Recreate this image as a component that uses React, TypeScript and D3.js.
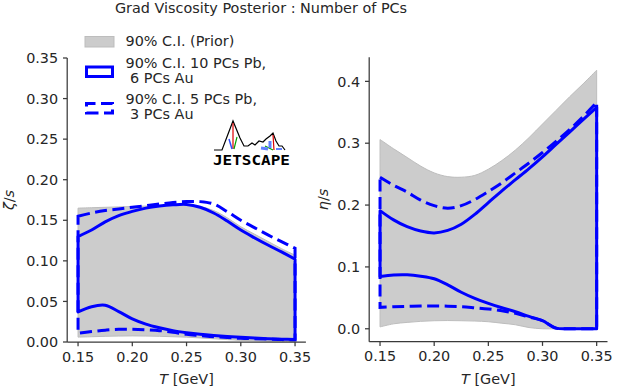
import React from 'react';
import * as d3 from 'd3';

// temperature grid [GeV]
const temps = [0.15, 0.1625, 0.175, 0.1875, 0.2, 0.2125, 0.225, 0.2375, 0.25, 0.2625, 0.275, 0.2875, 0.3, 0.3125, 0.325, 0.3375, 0.35];

// zeta/s : 90% C.I. bands
const zetaPriorLo = [0.006, 0.0065, 0.007, 0.0073, 0.0075, 0.0073, 0.007, 0.0065, 0.006, 0.005, 0.004, 0.003, 0.002, 0.0015, 0.001, 0.0007, 0.0005];
const zetaPriorHi = [0.165, 0.1655, 0.166, 0.1665, 0.167, 0.1675, 0.168, 0.1685, 0.169, 0.167, 0.162, 0.153, 0.142, 0.133, 0.124, 0.115, 0.107];
const zeta10Lo = [0.037, 0.0435, 0.0452, 0.0375, 0.0285, 0.022, 0.0175, 0.014, 0.0115, 0.0095, 0.008, 0.0068, 0.0058, 0.0048, 0.004, 0.0035, 0.003];
const zeta10Hi = [0.13, 0.138, 0.148, 0.1557, 0.161, 0.165, 0.1675, 0.169, 0.1695, 0.166, 0.159, 0.149, 0.138, 0.1285, 0.1195, 0.111, 0.102];
const zeta5Lo = [0.0107, 0.0128, 0.0146, 0.0156, 0.0156, 0.015, 0.014, 0.012, 0.0095, 0.008, 0.0065, 0.0055, 0.0045, 0.004, 0.0035, 0.003, 0.0025];
const zeta5Hi = [0.155, 0.159, 0.162, 0.164, 0.166, 0.168, 0.17, 0.172, 0.173, 0.173, 0.17, 0.1606, 0.15, 0.141, 0.132, 0.1236, 0.1155];

// eta/s : 90% C.I. bands
const etaPriorLo = [0.003, 0.008, 0.0103, 0.012, 0.013, 0.0133, 0.013, 0.0125, 0.0114, 0.009, 0.0065, 0.002, 0, 0, 0, 0, 0];
const etaPriorHi = [0.306, 0.291, 0.277, 0.263, 0.252, 0.246, 0.245, 0.248, 0.258, 0.272, 0.289, 0.309, 0.331, 0.353, 0.375, 0.396, 0.418];
const eta10Lo = [0.0846, 0.087, 0.0873, 0.085, 0.0808, 0.071, 0.059, 0.049, 0.041, 0.034, 0.0276, 0.02, 0.013, 0.001, 0, 0, 0];
const eta10Hi = [0.191, 0.176, 0.165, 0.158, 0.155, 0.159, 0.169, 0.185, 0.204, 0.223, 0.241, 0.259, 0.278, 0.298, 0.318, 0.338, 0.358];
const eta5Lo = [0.0347, 0.0357, 0.0363, 0.0368, 0.0369, 0.0365, 0.0358, 0.034, 0.032, 0.029, 0.025, 0.019, 0.013, 0.001, 0, 0, 0];
const eta5Hi = [0.245, 0.232, 0.221, 0.208, 0.199, 0.195, 0.199, 0.209, 0.222, 0.236, 0.252, 0.268, 0.285, 0.303, 0.322, 0.343, 0.366];

const xTicks = [0.15, 0.2, 0.25, 0.3, 0.35];
const zetaTicks = [0, 0.05, 0.1, 0.15, 0.2, 0.25, 0.3, 0.35];
const etaTicks = [0, 0.1, 0.2, 0.3, 0.4];

const legendLines = [
  ['90% C.I. (Prior)'],
  ['90% C.I. 10 PCs Pb,', ' 6 PCs Au'],
  ['90% C.I. 5 PCs Pb,', ' 3 PCs Au'],
];

const FONT = 'DejaVu Sans, sans-serif';
const TXT = '#262626';
const SPINE = '#3a3a3a';
const GRAY = '#cccccc';
const BLUE = '#0000ff';
const DASH = '12 5.5';
const CURVE = d3.curveCatmullRom.alpha(0.5);

type Sc = d3.ScaleLinear<number, number>;

function outline(lo: number[], hi: number[], x: Sc, y: Sc) {
  const line = d3.line<[number, number]>().curve(CURVE);
  const top = temps.map((t, i) => [x(t), y(hi[i])] as [number, number]);
  const bot = temps.map((t, i) => [x(t), y(lo[i])] as [number, number]).reverse();
  return line(top)! + line(bot)!.replace('M', 'L') + 'Z';
}

function Panel(props: {
  px: [number, number];
  py: [number, number];
  yDomain: [number, number];
  yTicks: number[];
  yFmt: string;
  ySym: string;
  labelX: number;
  prior: [number[], number[]];
  pc10: [number[], number[]];
  pc5: [number[], number[]];
}) {
  const { px, py, yDomain, yTicks, yFmt, ySym, labelX, prior, pc10, pc5 } = props;
  const x = d3.scaleLinear().domain([0.14, 0.36]).range(px);
  const y = d3.scaleLinear().domain(yDomain).range(py);
  const area = d3
    .area<number>()
    .x((_, i) => x(temps[i]))
    .y0((_, i) => y(prior[0][i]))
    .y1(d => y(d))
    .curve(CURVE);
  const fy = d3.format(yFmt);
  const fx = d3.format('.2f');
  return (
    <g>
      <path d={area(prior[1])!} fill={GRAY} stroke="#bdbdbd" strokeWidth={1} />
      <path d={outline(pc10[0], pc10[1], x, y)} fill="none" stroke={BLUE} strokeWidth={3} strokeLinejoin="round" />
      <path d={outline(pc5[0], pc5[1], x, y)} fill="none" stroke={BLUE} strokeWidth={3} strokeDasharray={DASH} />
      {/* spines */}
      <line x1={px[0]} x2={px[0]} y1={py[0]} y2={py[1]} stroke={SPINE} strokeWidth={1.25} />
      <line x1={px[0]} x2={px[1]} y1={py[0]} y2={py[0]} stroke={SPINE} strokeWidth={1.25} />
      {yTicks.map(t => (
        <g key={'y' + t}>
          <line x1={px[0] - 4.2} x2={px[0]} y1={y(t)} y2={y(t)} stroke={SPINE} strokeWidth={1.25} />
          <text x={px[0] - 9} y={y(t)} dy="0.36em" textAnchor="end" fontSize={14.4} fill={TXT}>
            {fy(t)}
          </text>
        </g>
      ))}
      {xTicks.map(t => (
        <g key={'x' + t}>
          <line x1={x(t)} x2={x(t)} y1={py[0]} y2={py[0] + 4.2} stroke={SPINE} strokeWidth={1.25} />
          <text x={x(t)} y={py[0] + 19.5} textAnchor="middle" fontSize={14.4} fill={TXT}>
            {fx(t)}
          </text>
        </g>
      ))}
      <text x={(px[0] + px[1]) / 2} y={384} textAnchor="middle" fontSize={14.4} fill={TXT}>
        <tspan fontStyle="italic">T</tspan> [GeV]
      </text>
      <text
        transform={`translate(${labelX},${(py[0] + py[1]) / 2}) rotate(-90)`}
        textAnchor="middle"
        fontSize={14.4}
        fill={TXT}
      >
        <tspan fontStyle="italic">{ySym}</tspan>/<tspan fontStyle="italic">s</tspan>
      </text>
    </g>
  );
}

function Legend() {
  const rows = [46, 68, 104];
  return (
    <g>
      <rect x={85} y={36.5} width={29} height={10.5} fill={GRAY} stroke="#bdbdbd" strokeWidth={1} />
      <rect x={86.5} y={67} width={26} height={9.5} fill="none" stroke={BLUE} strokeWidth={3} />
      <path d="M86.5,113 L112.5,113 L112.5,103.5 L86.5,103.5 Z" fill="none" stroke={BLUE} strokeWidth={3} strokeDasharray={DASH} />
      {legendLines.map((lines, i) =>
        lines.map((s, j) => (
          <text key={i + '-' + j} x={125.5} y={rows[i] + j * 15} fontSize={14.4} fill={TXT} style={{ whiteSpace: 'pre' }}>
            {s}
          </text>
        ))
      )}
    </g>
  );
}

function Logo() {
  // small JETSCAPE emblem
  return (
    <g>
      <polyline
        points="214,150 222,150 233,121 240,138 244,146 248,146 252,143 255,145 259,141 263,142 266,139 270,136 273,133 276,141 279,146 282,146 285,150"
        fill="none"
        stroke="#000"
        strokeWidth={1.2}
      />
      <line x1={233} y1={123} x2={233} y2={149} stroke="#e00000" strokeWidth={1.2} />
      <line x1={229} y1={139} x2={232} y2={149} stroke="#3050ff" strokeWidth={1.5} />
      <line x1={237} y1={137} x2={234} y2={149} stroke="#00a000" strokeWidth={1.2} />
      <line x1={273} y1={135} x2={274} y2={150} stroke="#e00000" strokeWidth={1.2} />
      <line x1={265} y1={146} x2={273} y2={150} stroke="#00a000" strokeWidth={1.2} />
      <line x1={261} y1={148} x2={268} y2={149} stroke="#6080ff" strokeWidth={3} />
      <line x1={270} y1={141} x2={270} y2={148} stroke="#6080ff" strokeWidth={3} />
      <line x1={276} y1={149} x2={282} y2={149} stroke="#6080ff" strokeWidth={2} />
      <text
        x={213}
        y={165}
        fontFamily="DejaVu Sans Mono, monospace"
        fontWeight="bold"
        fontSize={14}
        textLength={77}
        lengthAdjust="spacingAndGlyphs"
        fill="#000"
      >
        JETSCAPE
      </text>
    </g>
  );
}

export default function App() {
  const etaExt = d3.extent([...etaPriorLo, ...etaPriorHi, ...eta10Lo, ...eta10Hi, ...eta5Lo, ...eta5Hi]) as [number, number];
  const pad = (etaExt[1] - etaExt[0]) * 0.05;
  return (
    <svg
      width={628}
      height={390}
      style={{ position: 'absolute', left: 0, top: 0, background: '#fff' }}
      fontFamily={FONT}
    >
      <text x={261} y={12.5} textAnchor="middle" fontSize={14.4} fill={TXT}>
        Grad Viscosity Posterior : Number of PCs
      </text>
      <Panel
        px={[67.2, 305.9]}
        py={[342, 58]}
        yDomain={[0, 0.35]}
        yTicks={zetaTicks}
        yFmt=".2f"
        ySym="ζ"
        labelX={13.5}
        prior={[zetaPriorLo, zetaPriorHi]}
        pc10={[zeta10Lo, zeta10Hi]}
        pc5={[zeta5Lo, zeta5Hi]}
      />
      <Panel
        px={[369.2, 607.5]}
        py={[341.7, 57.3]}
        yDomain={[etaExt[0] - pad, etaExt[1] + pad]}
        yTicks={etaTicks}
        yFmt=".1f"
        ySym="η"
        labelX={328}
        prior={[etaPriorLo, etaPriorHi]}
        pc10={[eta10Lo, eta10Hi]}
        pc5={[eta5Lo, eta5Hi]}
      />
      <Legend />
      <Logo />
    </svg>
  );
}
